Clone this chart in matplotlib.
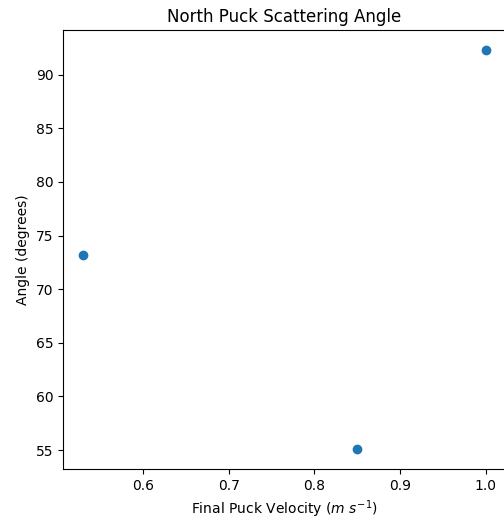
import matplotlib
matplotlib.use('Agg')
import matplotlib.pyplot as plt

velocity = [0.53, 0.85, 1.0]
angle = [73.2, 55.1, 92.3]

fig = plt.figure(figsize=(5.04, 5.22), dpi=100)
ax = fig.add_axes([0.125, 0.1015, 0.879, 0.841])
ax.scatter(velocity, angle)

ax.set_title('North Puck Scattering Angle')
ax.set_xlabel('Final Puck Velocity ($m\\ s^{-1}$)')
ax.set_ylabel('Angle (degrees)')

fig.savefig('out.png', dpi=100)
